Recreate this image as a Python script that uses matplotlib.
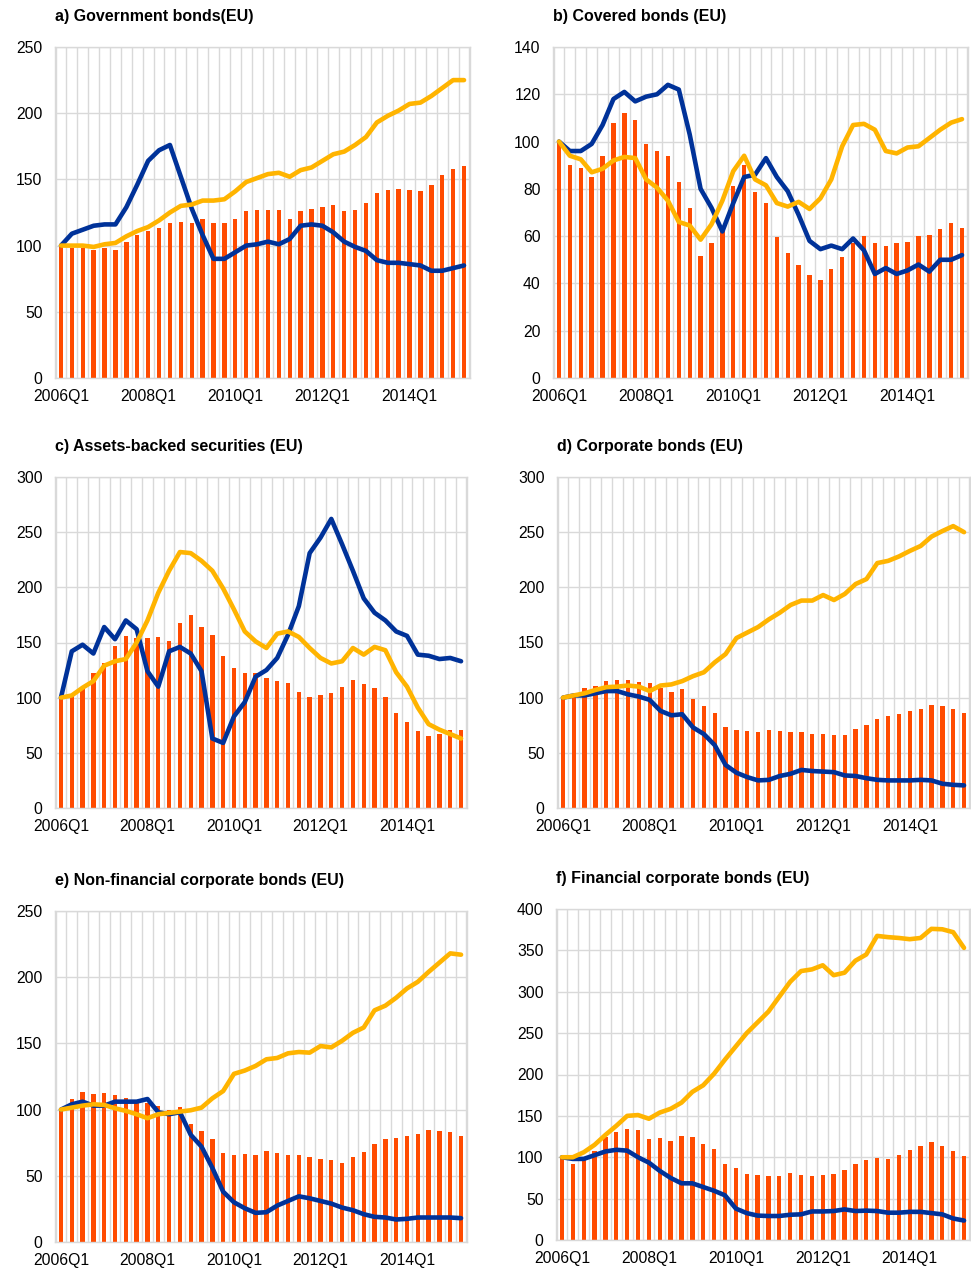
import matplotlib
matplotlib.use("Agg")
import matplotlib.pyplot as plt
import numpy as np

plt.rcParams["font.family"] = ["Liberation Sans", "DejaVu Sans"]

# quarters 2006Q1 .. 2015Q2
quarters = [f"{y}Q{q}" for y in range(2006, 2016) for q in range(1, 5)][:38]
tick_idx = [0, 8, 16, 24, 32]

# a) Government bonds
a_bars = [100, 98, 98, 97, 98, 97, 103, 108, 111, 113, 117, 118, 117, 120, 117, 117, 120, 126, 127,
          127, 127, 120, 126, 128, 129, 131, 126, 127, 132, 140, 142, 143, 142, 141, 146, 153, 158, 160]
a_blue = [100, 109, 112, 115, 116, 116, 129, 146, 164, 172, 176, 152, 128, 108, 90, 90, 95, 100, 101,
          103, 101, 105, 115, 116, 115, 110, 103, 99, 96, 89, 87, 87, 86, 85, 81, 81, 83, 85]
a_yellow = [100, 100, 100, 99, 101, 102, 107, 111, 114, 119, 125, 130, 131, 134, 134, 135, 141, 148, 151,
            154, 155, 152, 157, 159, 164, 169, 171, 176, 182, 193, 198, 202, 207, 208, 213, 219, 225, 225]

# b) Covered bonds
b_bars = [100, 90, 89, 85, 94, 108, 112, 109, 99, 96, 94, 83, 72, 51.5, 57, 63, 81, 90, 78.5,
          74, 59.5, 53, 48, 43.5, 41.5, 46, 51, 57, 60, 57, 56, 57, 57.5, 60, 60.5, 63, 65.5, 63.5]
b_blue = [100, 96, 96, 99, 107, 118, 121, 117, 119, 120, 124, 122, 103, 80, 72, 62, 74, 85, 86,
          93, 85, 79, 69, 58, 54.5, 56, 54.5, 59, 54, 44, 46.5, 44, 45.5, 48, 45, 50, 50, 52]
b_yellow = [100, 94, 92.5, 87, 88.5, 92, 93.5, 93, 84, 80.5, 75, 66, 64.5, 58.5, 65, 75, 87.5, 94, 84,
            81.5, 74, 72.5, 74.5, 71.5, 76, 84, 98, 107, 107.5, 105, 96, 95, 97.5, 98, 101.5, 105, 108, 109.5]

# c) Asset-backed securities
c_bars = [100, 102, 108, 122, 131, 147, 155.5, 154, 154.5, 155, 151, 168, 174.5, 164, 157, 138, 127, 122, 122,
          118, 115.5, 113, 105, 101, 102, 104.5, 110, 116, 112, 109, 101, 86, 78, 70, 65.5, 67, 70.5, 71]
c_blue = [100, 142, 148, 140, 164, 153, 170, 162, 124, 110, 142, 146, 140, 124, 63, 59, 83, 96, 119,
          125, 136, 157, 183, 231, 245, 262, 239, 215, 190, 177, 170, 160, 156, 139, 138, 135, 136, 133]
c_yellow = [100, 102, 109, 115, 129, 133, 135, 150, 170, 195, 215, 232, 231, 224, 215, 199, 180, 160, 151,
            145, 158, 160, 155, 145, 136, 131, 133, 145, 139, 146, 143, 123, 110, 91, 76, 71, 67, 63]

# d) Corporate bonds
d_bars = [100, 103, 109, 111, 115, 116, 116, 114, 113, 109, 105, 108, 98.5, 92, 86, 73, 71, 70, 69,
          71, 70, 69, 69, 67, 67, 66.5, 66, 71.5, 75.5, 81, 83.5, 85, 87.5, 90, 93, 92, 89.5, 86]
d_blue = [100, 102, 102, 104, 106, 106, 103, 101, 98, 88, 84, 85, 73, 67, 57, 39, 32, 28, 25,
          25.5, 29, 31, 34.5, 33.5, 33, 32.5, 29.5, 29, 27, 25.5, 25, 25, 25, 25.5, 25, 22, 21, 20.5]
d_yellow = [100, 102, 104, 107, 109.5, 110, 111, 110, 106, 111, 112, 115, 119.5, 123, 132, 139.5, 154, 159, 164,
            171, 177, 184, 188, 188, 193, 188.5, 194, 203, 207.5, 222, 224, 228, 233, 237.5, 246, 251, 255.5, 250]

# e) Non-financial corporate bonds
e_bars = [100, 108, 113, 112, 112.5, 111, 109, 106, 105, 103, 100, 102, 89, 83.5, 78, 67, 66, 66.5, 65.5,
          68.5, 67.5, 65.5, 65.5, 64, 63, 62, 60, 64.5, 68, 74, 78, 78.5, 80, 81.5, 84.5, 84, 83, 80]
e_blue = [100, 104, 106, 103, 103, 106, 106, 106, 108, 98, 96.5, 98, 81, 72, 56, 38, 30, 25.5, 22,
          22.5, 27.5, 31, 34.5, 33, 31, 29, 26, 24, 21, 19, 18.5, 17, 17.5, 18.5, 18.5, 18.5, 18.5, 18]
e_yellow = [100, 101.5, 103, 104, 103.5, 101, 99, 96.5, 93.5, 96.5, 97.5, 98.5, 99.5, 101.5, 108.5, 114, 127, 129.5, 133,
            138, 139, 142.5, 143.5, 143, 148, 147, 152, 158, 162, 175, 178.5, 184.5, 191.5, 196.5, 204, 211, 218, 217]

# f) Financial corporate bonds
f_bars = [100, 92, 97, 108, 124, 130, 134, 133, 122, 123, 120, 126, 125, 116.5, 110, 91.5, 86.5, 80, 78,
          77.5, 77, 81, 79, 77.5, 79, 79.5, 84, 92, 96.5, 99.5, 98, 102.5, 109, 114, 118, 114, 107.5, 102]
f_blue = [100, 98, 98, 102.5, 107, 109, 108, 100, 93.5, 83.5, 75, 68.5, 68.5, 64, 59.5, 54, 38, 32.5, 29.5,
          29, 29, 30.5, 31, 34.5, 34.5, 35, 37, 35, 35.5, 35, 33, 33, 34, 34, 32.5, 31, 26, 23.5]
f_yellow = [100, 100, 106, 115, 127, 138, 150, 151, 146.5, 154, 158.5, 166, 179, 187, 201, 218, 234, 250, 263,
            276, 294, 312, 325, 327, 332, 320, 323, 337.5, 345, 367.5, 366, 365, 363.5, 365, 376, 375.5, 372, 353]

titles = ["a) Government bonds(EU)", "b) Covered bonds (EU)", "c) Assets-backed securities (EU)",
          "d) Corporate bonds (EU)", "e) Non-financial corporate bonds (EU)", "f) Financial corporate bonds (EU)"]
ymaxes = [250, 140, 300, 300, 250, 400]
ysteps = [50, 20, 50, 50, 50, 50]
series = [(a_bars, a_blue, a_yellow), (b_bars, b_blue, b_yellow), (c_bars, c_blue, c_yellow),
          (d_bars, d_blue, d_yellow), (e_bars, e_blue, e_yellow), (f_bars, f_blue, f_yellow)]

c_bar = "#FF4B00"
c_blue = "#003299"
c_yellow = "#FFB400"
c_grid = "#D9D9D9"

W, H = 971, 1272
# plot-area boxes in pixels: left, top, right, bottom
boxes = [(55, 47, 470, 378), (553, 47, 968, 378),
         (55, 477, 467, 808), (557, 477, 970, 808),
         (55, 911, 467, 1242), (556, 909, 970, 1240)]
title_y = [17, 17, 447, 447, 881, 879]

fig = plt.figure(figsize=(W / 100, H / 100), dpi=100)
x = np.arange(len(quarters))

for k, (ttl, (bars, blue, yellow)) in enumerate(zip(titles, series)):
    l, t, r, b = boxes[k]
    ax = fig.add_axes([l / W, 1 - b / H, (r - l) / W, (b - t) / H])
    ax.bar(x, bars, 0.4, color=c_bar, zorder=2)
    ax.plot(x, blue, color=c_blue, lw=3.3, zorder=3, solid_joinstyle="round", solid_capstyle="round")
    ax.plot(x, yellow, color=c_yellow, lw=3.3, zorder=4, solid_joinstyle="round", solid_capstyle="round")

    ax.set_xlim(-0.55, len(quarters) - 0.45)
    ax.set_ylim(0, ymaxes[k])
    ax.set_yticks(np.arange(0, ymaxes[k] + 1, ysteps[k]))
    ax.set_xticks(tick_idx)
    ax.set_xticklabels([quarters[i] for i in tick_idx])
    ax.set_xticks(np.arange(len(quarters) + 1) - 0.5, minor=True)
    ax.tick_params(axis="both", which="both", length=0, labelsize=11.3, colors="black")
    ax.tick_params(axis="y", pad=9)
    ax.tick_params(axis="x", pad=8)
    ax.set_axisbelow(True)
    ax.yaxis.grid(True, color=c_grid, lw=1)
    ax.xaxis.grid(True, which="minor", color=c_grid, lw=1)
    for s in ax.spines.values():
        s.set_color(c_grid)
        s.set_linewidth(1)

    fig.text(l / W, 1 - title_y[k] / H, ttl, fontsize=11.5, fontweight="bold",
             ha="left", va="center")

plt.savefig("out.png", dpi=100, facecolor="white")
